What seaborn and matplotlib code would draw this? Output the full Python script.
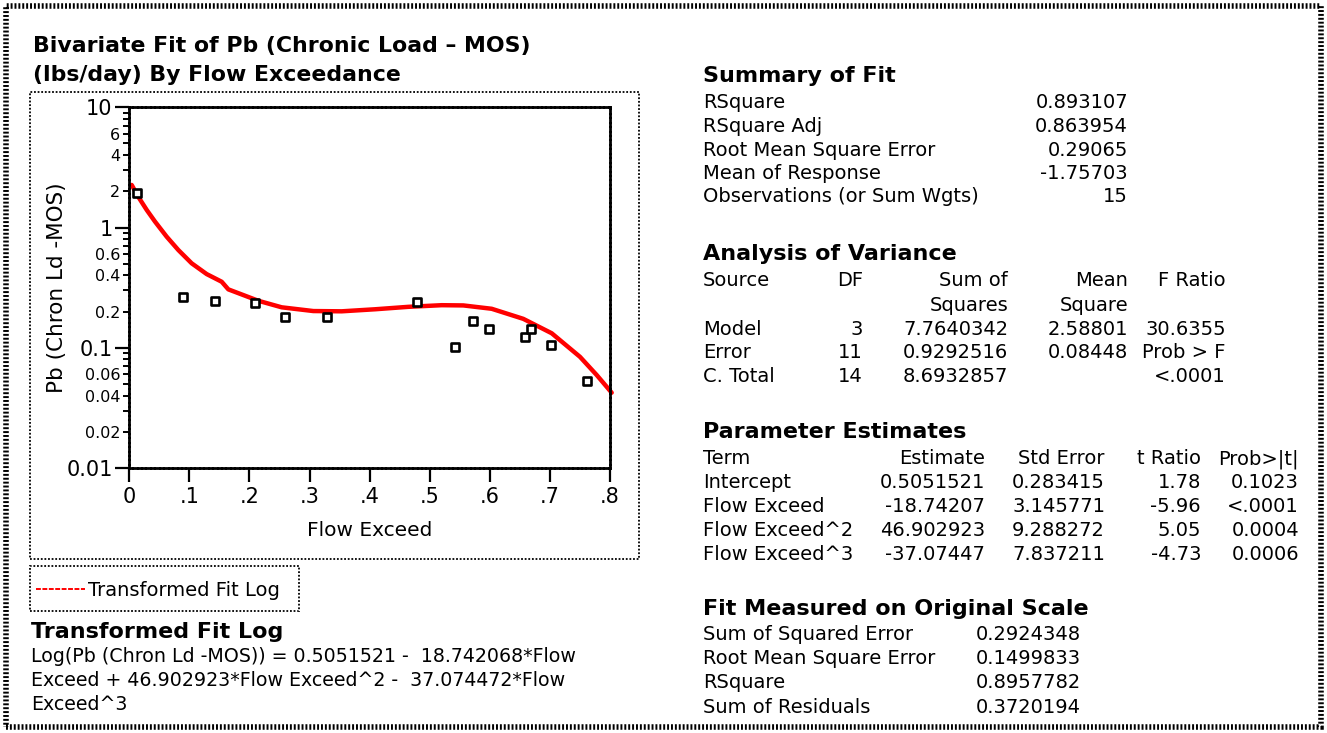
import numpy as np
import pandas as pd
import matplotlib
matplotlib.use("Agg")
import matplotlib.pyplot as plt
import matplotlib.ticker as mticker
from matplotlib.patches import Rectangle
from matplotlib.lines import Line2D
import seaborn as sns

# ---------------- data ----------------
flow_exceed = [0.0123, 0.0888, 0.1421, 0.2087, 0.2591, 0.3285, 0.4783,
               0.5415, 0.5715, 0.5986, 0.6580, 0.6685, 0.7013, 0.7612]
pb_load = [1.95, 0.264, 0.245, 0.234, 0.180, 0.180, 0.239,
           0.1014, 0.1667, 0.1439, 0.1236, 0.143, 0.1059, 0.0531]

fit_x = [0.004, 0.015, 0.029, 0.0428, 0.0622, 0.0816, 0.1038, 0.1288, 0.1538,
         0.1648, 0.1926, 0.2147, 0.2536, 0.3063, 0.3535, 0.4089, 0.4643,
         0.5199, 0.5559, 0.6031, 0.6557, 0.703, 0.750, 0.7779, 0.8028]
fit_y = [2.26, 1.80, 1.40, 1.12, 0.839, 0.650, 0.504, 0.410, 0.354,
         0.306, 0.271, 0.246, 0.217, 0.202, 0.201, 0.209, 0.219,
         0.226, 0.225, 0.211, 0.174, 0.132, 0.0841, 0.0593, 0.0423]

x_ticks = [0, 0.1, 0.2, 0.3, 0.4, 0.5, 0.6, 0.7, 0.8]
x_tick_labels = ["0", ".1", ".2", ".3", ".4", ".5", ".6", ".7", ".8"]
y_major = [0.01, 0.1, 1, 10]
y_major_labels = ["0.01", "0.1", "1", "10"]
y_minor_labelled = {0.02: "0.02", 0.04: "0.04", 0.06: "0.06",
                    0.2: "0.2", 0.4: "0.4", 0.6: "0.6",
                    2: "2", 4: "4", 6: "6"}

title_lines = ["Bivariate Fit of Pb (Chronic Load \u2013 MOS)",
               "(lbs/day) By Flow Exceedance"]
x_label = "Flow Exceed"
y_label = "Pb (Chron Ld -MOS)"
legend_label = "Transformed Fit Log"
eq_title = "Transformed Fit Log"
eq_lines = ["Log(Pb (Chron Ld -MOS)) = 0.5051521 -  18.742068*Flow",
            "Exceed + 46.902923*Flow Exceed^2 -  37.074472*Flow",
            "Exceed^3"]

summary_labels = ["RSquare", "RSquare Adj", "Root Mean Square Error",
                  "Mean of Response", "Observations (or Sum Wgts)"]
summary_values = ["0.893107", "0.863954", "0.29065", "-1.75703", "15"]

anova_header1 = ["Source", "DF", "Sum of", "Mean", "F Ratio"]
anova_header2 = ["", "", "Squares", "Square", ""]
anova_rows = [["Model", "3", "7.7640342", "2.58801", "30.6355"],
              ["Error", "11", "0.9292516", "0.08448", "Prob > F"],
              ["C. Total", "14", "8.6932857", "", "<.0001"]]

param_header = ["Term", "Estimate", "Std Error", "t Ratio", "Prob>|t|"]
param_rows = [["Intercept", "0.5051521", "0.283415", "1.78", "0.1023"],
              ["Flow Exceed", "-18.74207", "3.145771", "-5.96", "<.0001"],
              ["Flow Exceed^2", "46.902923", "9.288272", "5.05", "0.0004"],
              ["Flow Exceed^3", "-37.07447", "7.837211", "-4.73", "0.0006"]]

orig_labels = ["Sum of Squared Error", "Root Mean Square Error",
               "RSquare", "Sum of Residuals"]
orig_values = ["0.2924348", "0.1499833", "0.8957782", "0.3720194"]

# ---------------- figure ----------------
sns.set_theme(style="white")
plt.rcParams['font.family'] = ['DejaVu Sans']
plt.rcParams['text.color'] = 'black'
plt.rcParams['axes.labelcolor'] = 'black'
plt.rcParams['xtick.color'] = 'black'
plt.rcParams['ytick.color'] = 'black'
plt.rcParams['xtick.labelcolor'] = 'black'
plt.rcParams['ytick.labelcolor'] = 'black'

W, H = 1327, 733
fig = plt.figure(figsize=(W / 100, H / 100), dpi=100)
fig.patch.set_facecolor("white")


def fx(x):
    return x / W


def fy(y):
    return 1 - y / H


def ftext(x, y, s, size=14, weight="normal", ha="left"):
    fig.text(fx(x), fy(y), s, fontsize=size, fontweight=weight, ha=ha,
             va="center", color="black")


def frect(x0, y0, x1, y1, lw, ls):
    fig.patches.append(Rectangle((fx(x0), fy(y1)), (x1 - x0) / W, (y1 - y0) / H,
                                 transform=fig.transFigure, fill=False,
                                 edgecolor="black", linewidth=lw, linestyle=ls))


# outer border and panel frames
frect(6, 6, 1321, 727, 4, (0, (0.35, 0.35)))
frect(30, 92, 639, 559, 1.3, (0, (1, 1)))
frect(30, 566, 299, 611, 1.3, (0, (1, 1)))

# axes
ax = fig.add_axes([fx(129.3), fy(468), 480.7 / W, 360.7 / H])
ax.set_facecolor("white")

line_df = pd.DataFrame({"x": fit_x, "y": fit_y})
pts_df = pd.DataFrame({"x": flow_exceed, "y": pb_load})

sns.lineplot(data=line_df, x="x", y="y", ax=ax, color="#ff0000",
             linewidth=3.2, sort=False, legend=False, zorder=2)
for ln in ax.lines:
    ln.set_clip_on(False)
sns.scatterplot(data=pts_df, x="x", y="y", ax=ax, marker="s", s=34,
                facecolor="white", edgecolor="black", linewidth=1.9,
                zorder=3, legend=False)

ax.set_yscale("log")
ax.set_xlim(0, 0.8)
ax.set_ylim(0.01, 10)

ax.set_xticks(x_ticks)
ax.set_xticklabels(x_tick_labels)
ax.yaxis.set_major_locator(mticker.FixedLocator(y_major))
ax.yaxis.set_major_formatter(mticker.FixedFormatter(y_major_labels))
minor_locs = [m * 10.0 ** e for e in (-2, -1, 0) for m in range(2, 10)]
ax.yaxis.set_minor_locator(mticker.FixedLocator(minor_locs))
ax.yaxis.set_minor_formatter(mticker.FuncFormatter(
    lambda v, p: next((lab for k, lab in y_minor_labelled.items()
                       if abs(v - k) < 1e-9 * max(1, k)), "")))

ax.tick_params(axis="x", which="major", direction="out", length=10, width=1.6,
               labelsize=15, pad=4, color="black", labelcolor="black", bottom=True)
ax.tick_params(axis="y", which="major", direction="out", length=10, width=1.6,
               labelsize=15, pad=2, color="black", labelcolor="black", left=True)
ax.tick_params(axis="y", which="minor", direction="out", length=4.5, width=1.4,
               labelsize=11.5, pad=2, color="black", labelcolor="black", left=True)

for side in ["left", "bottom", "top", "right"]:
    sp = ax.spines[side]
    sp.set_visible(True)
    sp.set_color("black")
    sp.set_linewidth(2)
    sp.set_linestyle((0, (1, 0.6)))

ax.set_xlabel(x_label, fontsize=14.5, color="black")
ax.set_ylabel(y_label, fontsize=15.5, color="black")
ax.xaxis.label.set_va("center")
ax.yaxis.label.set_va("center")
ax.xaxis.set_label_coords(0.5, (468 - 530) / 360.7)
ax.yaxis.set_label_coords((57 - 129.3) / 480.7, 0.5)
ax.grid(False)

# legend (outside axes)
handle = Line2D([], [], color="#ff0000", linewidth=1.4, linestyle=(0, (2.5, 0.8)))
leg = fig.legend(handles=[handle], labels=[legend_label], loc="center left",
                 bbox_to_anchor=(fx(36), fy(590)), frameon=False, fontsize=14,
                 handlelength=2.5, handletextpad=0.15, borderpad=0,
                 borderaxespad=0, labelcolor="black")

# ---------------- texts ----------------
ftext(33, 46, title_lines[0], size=15.8, weight="bold")
ftext(33, 75, title_lines[1], size=15.8, weight="bold")

ftext(31, 632, eq_title, size=16, weight="bold")
for i, s in enumerate(eq_lines):
    ftext(31, 656 + 24.5 * i, s, size=13.7)

# Summary of Fit
ftext(703, 76, "Summary of Fit", size=16, weight="bold")
for i, (lab, val) in enumerate(zip(summary_labels, summary_values)):
    yy = 103 + 23.5 * i
    ftext(703, yy, lab)
    ftext(1128, yy, val, ha="right")

# Analysis of Variance
ftext(703, 254, "Analysis of Variance", size=16, weight="bold")
anova_right = [None, 863, 1008, 1128, 1226]


def anova_row(cells, yy):
    for j, c in enumerate(cells):
        if not c:
            continue
        if j == 0:
            ftext(703, yy, c)
        else:
            ftext(anova_right[j], yy, c, ha="right")


anova_row(anova_header1, 281)
anova_row(anova_header2, 305)
for i, row in enumerate(anova_rows):
    anova_row(row, 329 + 23.5 * i)

# Parameter Estimates
ftext(703, 432, "Parameter Estimates", size=16, weight="bold")
param_right = [None, 985, 1105, 1201, 1299]


def param_row(cells, yy):
    for j, c in enumerate(cells):
        if j == 0:
            ftext(703, yy, c)
        else:
            ftext(param_right[j], yy, c, ha="right")


param_row(param_header, 459)
for i, row in enumerate(param_rows):
    param_row(row, 483 + 24 * i)

# Fit Measured on Original Scale
ftext(703, 609, "Fit Measured on Original Scale", size=16, weight="bold")
for i, (lab, val) in enumerate(zip(orig_labels, orig_values)):
    yy = 634 + 24.5 * i
    ftext(703, yy, lab)
    ftext(1081, yy, val, ha="right")

fig.savefig("out.png", dpi=100, facecolor="white")
